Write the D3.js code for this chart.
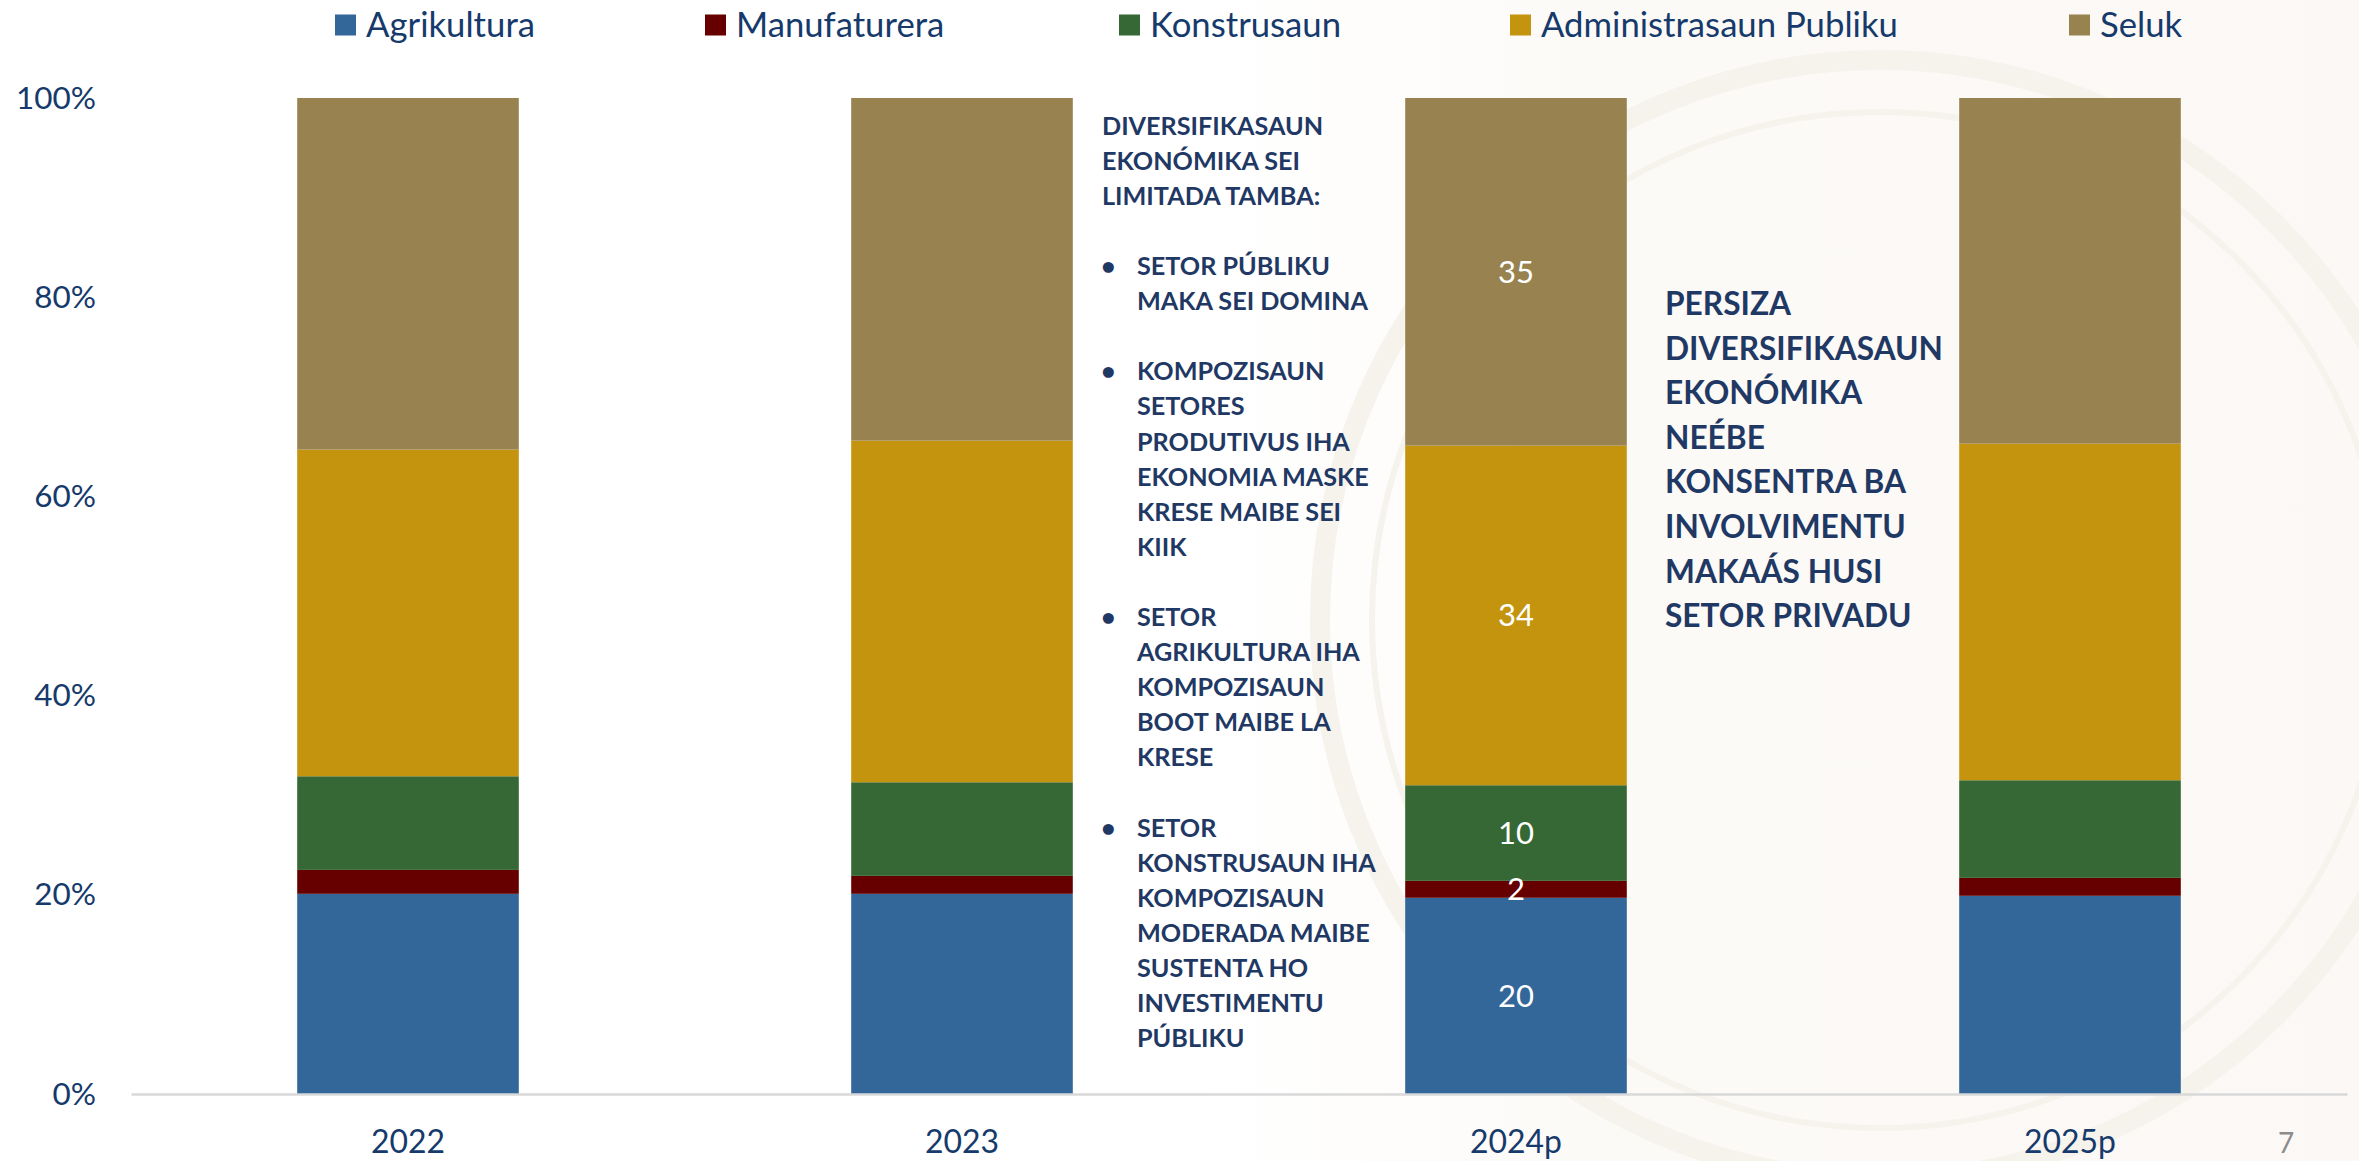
<!DOCTYPE html>
<html>
<head>
<meta charset="utf-8">
<script src="https://cdn.jsdelivr.net/npm/d3@7"></script>
<style>
  html, body { margin: 0; padding: 0; background: #ffffff; }
  svg { display: block; }
</style>
</head>
<body>
<svg id="chart" width="2359" height="1161"></svg>
<script>
// ---------------- DATA ----------------
const categories = ["2022", "2023", "2024p", "2025p"];
const seriesNames = ["Agrikultura", "Manufaturera", "Konstrusaun", "Administrasaun Publiku", "Seluk"];
const agrikultura    = [20.1, 20.1, 19.7, 19.9];
const manufaturera   = [2.4, 1.8, 1.7, 1.8];
const konstrusaun    = [9.4, 9.4, 9.6, 9.8];
const administrasaun = [32.8, 34.3, 34.1, 33.8];
const seluk          = [35.3, 34.4, 34.9, 34.7];
const seriesColors   = ["#336699", "#660000", "#356835", "#C5940E", "#978250"];
const labelledCategory = "2024p";
const yTickValues = [0, 20, 40, 60, 80, 100];
const yTickLabels = ["0%", "20%", "40%", "60%", "80%", "100%"];
const noteTitle = ["DIVERSIFIKASAUN", "EKONÓMIKA SEI", "LIMITADA TAMBA:"];
const noteBullets = [
  ["SETOR PÚBLIKU", "MAKA SEI DOMINA"],
  ["KOMPOZISAUN", "SETORES", "PRODUTIVUS IHA", "EKONOMIA MASKE", "KRESE MAIBE SEI", "KIIK"],
  ["SETOR", "AGRIKULTURA IHA", "KOMPOZISAUN", "BOOT MAIBE LA", "KRESE"],
  ["SETOR", "KONSTRUSAUN IHA", "KOMPOZISAUN", "MODERADA MAIBE", "SUSTENTA HO", "INVESTIMENTU", "PÚBLIKU"]
];
const sideNote = ["PERSIZA", "DIVERSIFIKASAUN", "EKONÓMIKA", "NEÉBE", "KONSENTRA BA", "INVOLVIMENTU", "MAKAÁS HUSI", "SETOR PRIVADU"];
const pageNumber = "7";

// ---------------- LAYOUT ----------------
const W = 2359, H = 1161;
const plot = { left: 131, right: 2347, top: 98, bottom: 1094 };
const FONT = "Lato, 'Open Sans', 'Noto Sans', sans-serif";
const NAVY = "#1F3864";
const AXIS_TEXT = "#163a6b";

const svg = d3.select("#chart");

function fitSize(sample, target, weight) {
  const t = svg.append("text").attr("font-family", FONT).attr("font-weight", weight || 400)
    .attr("font-size", 100).text(sample);
  const w = t.node().getComputedTextLength();
  t.remove();
  return 100 * target / w;
}

// background tint + very faint watermark
const defs = svg.append("defs");
const grad = defs.append("linearGradient").attr("id", "tint").attr("x1", 0).attr("x2", 1).attr("y1", 0).attr("y2", 0);
grad.append("stop").attr("offset", 0).attr("stop-color", "#ffffff");
grad.append("stop").attr("offset", 0.35).attr("stop-color", "#fcfaf7");
grad.append("stop").attr("offset", 1).attr("stop-color", "#fbf8f5");
svg.append("rect").attr("x", 1200).attr("y", 0).attr("width", W - 1200).attr("height", H).attr("fill", "url(#tint)");
const wm = svg.append("g").attr("fill", "none").attr("stroke", "#f6f2ec");
wm.append("circle").attr("cx", 1880).attr("cy", 620).attr("r", 560).attr("stroke-width", 20);
wm.append("circle").attr("cx", 1880).attr("cy", 620).attr("r", 508).attr("stroke-width", 6);

// scales
const x = d3.scaleBand().domain(categories).range([plot.left, plot.right]).paddingInner(0.6).paddingOuter(0.3);
const y = d3.scaleLinear().domain([0, 100]).range([plot.bottom, plot.top]);

// stacked data
const table = categories.map((c, i) => ({
  category: c,
  "Agrikultura": agrikultura[i],
  "Manufaturera": manufaturera[i],
  "Konstrusaun": konstrusaun[i],
  "Administrasaun Publiku": administrasaun[i],
  "Seluk": seluk[i]
}));
const stacked = d3.stack().keys(seriesNames)(table);
const color = d3.scaleOrdinal().domain(seriesNames).range(seriesColors);

// font sizes fitted to reference widths
const fsAxis = fitSize("2024p", 92);
const fsYAxis = fitSize("100%", 80);
const fsLegend = fitSize("Administrasaun Publiku", 357);
const fsData = fitSize("20", 36);
const fsNote = fitSize("KONSTRUSAUN IHA", 239, 700);
const fsSide = fitSize("DIVERSIFIKASAUN", 278, 700);

// bars
const layers = svg.append("g").selectAll("g").data(stacked).join("g").attr("fill", d => color(d.key));
layers.selectAll("rect").data(d => d).join("rect")
  .attr("x", d => x(d.data.category))
  .attr("width", x.bandwidth())
  .attr("y", d => y(d[1]))
  .attr("height", d => y(d[0]) - y(d[1]));

// data labels for the labelled category
const labG = svg.append("g").attr("font-family", FONT).attr("font-size", fsData).attr("fill", "#ffffff").attr("text-anchor", "middle");
stacked.forEach(layer => {
  layer.filter(d => d.data.category === labelledCategory).forEach(d => {
    labG.append("text")
      .attr("x", x(d.data.category) + x.bandwidth() / 2)
      .attr("y", y((d[0] + d[1]) / 2))
      .attr("dy", "0.35em")
      .text(d3.format(".0f")(d[1] - d[0]));
  });
});

// y axis
const yAxis = d3.axisLeft(y).tickValues(yTickValues).tickFormat((d, i) => yTickLabels[i]).tickSize(0).tickPadding(35);
const gy = svg.append("g").attr("transform", `translate(${plot.left},0)`).call(yAxis);
gy.select(".domain").remove();
gy.selectAll("text").attr("font-family", FONT).attr("font-size", fsYAxis).attr("fill", AXIS_TEXT);

// x axis
const xAxis = d3.axisBottom(x).tickSize(0).tickPadding(1153 - plot.bottom - 0.71 * fsAxis);
const gx = svg.append("g").attr("transform", `translate(0,${plot.bottom})`).call(xAxis);
gx.select(".domain").attr("stroke", "#d9d9d9").attr("stroke-width", 2.5);
gx.selectAll("text").attr("font-family", FONT).attr("font-size", fsAxis).attr("fill", AXIS_TEXT);

// legend
const legendX = [335, 705, 1119, 1510, 2069];
const legend = svg.append("g").attr("font-family", FONT).attr("font-size", fsLegend);
seriesNames.forEach((name, i) => {
  const g = legend.append("g").attr("transform", `translate(${legendX[i]},25)`);
  g.append("rect").attr("x", 0).attr("y", -10.5).attr("width", 21).attr("height", 21).attr("fill", color(name));
  g.append("text").attr("x", 31).attr("y", 0).attr("dy", "0.35em").attr("fill", AXIS_TEXT).text(name);
});

// left note
const note = svg.append("g").attr("font-family", FONT).attr("font-weight", 700).attr("font-size", fsNote).attr("fill", NAVY);
const lh = 35.1, base0 = 134.6;
let li = 0;
noteTitle.forEach(t => { note.append("text").attr("x", 1102).attr("y", base0 + li * lh).text(t); li++; });
li++;
noteBullets.forEach(group => {
  note.append("text").attr("x", 1101).attr("y", base0 + li * lh).text("•");
  group.forEach(t => { note.append("text").attr("x", 1137).attr("y", base0 + li * lh).text(t); li++; });
  li++;
});

// side note
const side = svg.append("g").attr("font-family", FONT).attr("font-weight", 700).attr("font-size", fsSide).attr("fill", NAVY);
sideNote.forEach((t, i) => side.append("text").attr("x", 1665).attr("y", 315 + i * 44.6).text(t));

// page number
svg.append("text").attr("x", 2286).attr("y", 1153).attr("text-anchor", "middle")
  .attr("font-family", FONT).attr("font-size", 28).attr("fill", "#8c8c8c").text(pageNumber);
</script>
</body>
</html>
